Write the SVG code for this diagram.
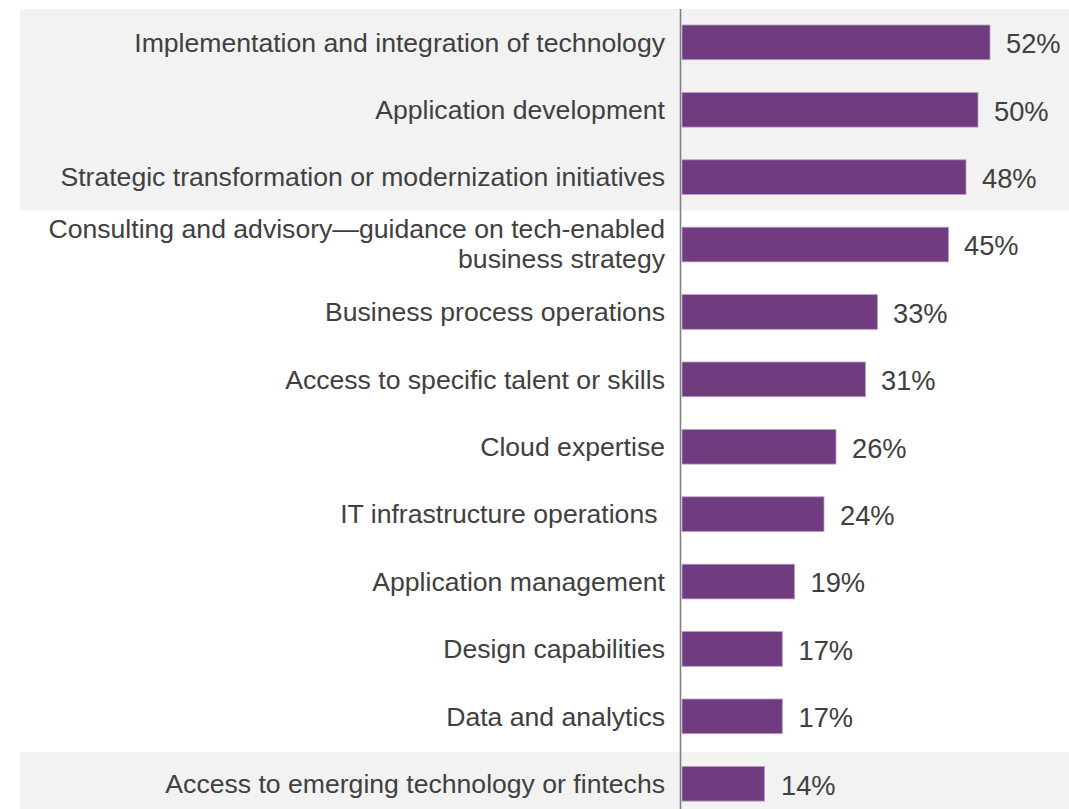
<svg xmlns="http://www.w3.org/2000/svg" width="1069" height="809" viewBox="0 0 1069 809">
<style>
.lbl{font-family:"Liberation Sans",Arial,sans-serif;font-size:26.6px;fill:#404040;text-anchor:end}
.val{font-family:"Liberation Sans",Arial,sans-serif;font-size:27.3px;fill:#404040}
.bar{fill:#713B80;stroke:#B9A0C2;stroke-width:0.8}
</style>
<rect width="1069" height="809" fill="#FFFFFF"/>
<g id="bands">
<rect x="20" y="9" width="1049" height="201.5" fill="#F2F2F2"/>
<rect x="20" y="752" width="1049" height="57" fill="#F2F2F2"/>
</g>
<g id="connectors">
<line x1="680.5" y1="9" x2="680.5" y2="809" stroke="#808080" stroke-width="1.6"/>
</g>
<g id="row1"><rect class="bar" x="682" y="25" width="308" height="34.7"/><text class="lbl" x="665" y="51.5">Implementation and integration of technology</text><text class="val" x="1006" y="53.2">52%</text></g>
<g id="row2"><rect class="bar" x="682" y="92.4" width="296" height="34.7"/><text class="lbl" x="665" y="118.9">Application development</text><text class="val" x="994" y="120.6">50%</text></g>
<g id="row3"><rect class="bar" x="682" y="159.8" width="284" height="34.7"/><text class="lbl" x="665" y="186.3">Strategic transformation or modernization initiatives</text><text class="val" x="982" y="188">48%</text></g>
<g id="row4"><rect class="bar" x="682" y="227.2" width="266.5" height="34.7"/><text class="lbl" x="665" y="238.3">Consulting and advisory—guidance on tech-enabled</text><text class="lbl" x="665" y="268.3">business strategy</text><text class="val" x="964" y="255.4">45%</text></g>
<g id="row5"><rect class="bar" x="682" y="294.6" width="195.4" height="34.7"/><text class="lbl" x="665" y="321.1">Business process operations</text><text class="val" x="893" y="322.8">33%</text></g>
<g id="row6"><rect class="bar" x="682" y="362" width="183.5" height="34.7"/><text class="lbl" x="665" y="388.5">Access to specific talent or skills</text><text class="val" x="881" y="390.2">31%</text></g>
<g id="row7"><rect class="bar" x="682" y="429.4" width="154" height="34.7"/><text class="lbl" x="665" y="455.9">Cloud expertise</text><text class="val" x="852" y="457.6">26%</text></g>
<g id="row8"><rect class="bar" x="682" y="496.8" width="142" height="34.7"/><text class="lbl" x="657.5" y="523.3">IT infrastructure operations</text><text class="val" x="840" y="525">24%</text></g>
<g id="row9"><rect class="bar" x="682" y="564.2" width="112.5" height="34.7"/><text class="lbl" x="665" y="590.7">Application management</text><text class="val" x="810.5" y="592.4">19%</text></g>
<g id="row10"><rect class="bar" x="682" y="631.6" width="100.3" height="34.7"/><text class="lbl" x="665" y="658.1">Design capabilities</text><text class="val" x="798.5" y="659.8">17%</text></g>
<g id="row11"><rect class="bar" x="682" y="699" width="100.3" height="34.7"/><text class="lbl" x="665" y="725.5">Data and analytics</text><text class="val" x="798.5" y="727.2">17%</text></g>
<g id="row12"><rect class="bar" x="682" y="766.4" width="82.5" height="34.7"/><text class="lbl" x="665" y="792.9">Access to emerging technology or fintechs</text><text class="val" x="781" y="794.6">14%</text></g>
</svg>
